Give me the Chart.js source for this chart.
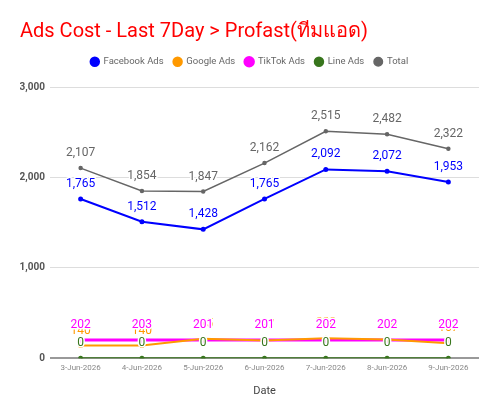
<!DOCTYPE html>
<html lang="en">
<head>
  <meta charset="UTF-8" />
  <title>Ads Cost - Last 7Day</title>
  <style>
    body { margin: 0; padding: 0; background: #fff; }
    #wrap { width: 500px; height: 415px; }
  </style>
</head>
<body>
  <div id="wrap"><canvas id="chart" width="500" height="415"></canvas></div>

  <script src="https://cdn.jsdelivr.net/npm/chart.js"></script>
  <script>
    const dates = ['3-Jun-2026', '4-Jun-2026', '5-Jun-2026', '6-Jun-2026', '7-Jun-2026', '8-Jun-2026', '9-Jun-2026'];
    const facebookAds = [1765, 1512, 1428, 1765, 2092, 2072, 1953];
    const googleAds = [140, 140, 215, 197, 220, 208, 167];
    const tiktokAds = [202, 203, 201, 201, 202, 202, 202];
    const lineAds = [0, 0, 0, 0, 0, 0, 0];
    const total = [2107, 1854, 1847, 2162, 2515, 2482, 2322];
    const yTicks = [0, 1000, 2000, 3000];

    const FONT = "Roboto, 'Noto Sans', 'DejaVu Sans', sans-serif";

    // value labels above each point, white halo like the sheets chart
    const pointLabels = {
      id: 'pointLabels',
      afterDatasetsDraw(chart) {
        const ctx = chart.ctx;
        ctx.save();
        ctx.font = '12px ' + FONT;
        ctx.textAlign = 'center';
        ctx.textBaseline = 'middle';
        ctx.lineJoin = 'round';
        chart.data.datasets.forEach((ds, i) => {
          const meta = chart.getDatasetMeta(i);
          meta.data.forEach((pt, j) => {
            const txt = ds.data[j].toLocaleString('en-US');
            const y = pt.y - 15;
            ctx.strokeStyle = '#fff';
            ctx.lineWidth = 3;
            ctx.strokeText(txt, pt.x, y);
            ctx.fillStyle = ds.labelColor;
            ctx.fillText(txt, pt.x, y);
          });
        });
        ctx.restore();
      }
    };

    // a bit more room under the legend
    const legendGap = {
      id: 'legendGap',
      beforeInit(chart) {
        const fit = chart.legend.fit;
        chart.legend.fit = function () {
          fit.call(this);
          this.height += 11;
        };
      }
    };

    function series(label, data, color, width) {
      return {
        label: label,
        data: data,
        borderColor: color,
        backgroundColor: color,
        labelColor: color,
        borderWidth: width,
        pointRadius: 1.5,
        pointHoverRadius: 2,
        tension: 0
      };
    }

    new Chart(document.getElementById('chart'), {
      type: 'line',
      data: {
        labels: dates,
        datasets: [
          series('Facebook Ads', facebookAds, '#0000ff', 2),
          series('Google Ads', googleAds, '#ff9900', 2),
          series('TikTok Ads', tiktokAds, '#ff00ff', 3),
          series('Line Ads', lineAds, '#38761d', 2),
          series('Total', total, '#666666', 1.5)
        ]
      },
      options: {
        responsive: false,
        animation: false,
        layout: { padding: { left: 20, right: 21, top: 10, bottom: 13 } },
        plugins: {
          title: {
            display: true,
            text: 'Ads Cost - Last 7Day > Profast(ทีมแอด)',
            align: 'start',
            color: '#ff0000',
            font: { family: FONT, size: 20, weight: 'normal' },
            padding: { top: 10, bottom: 3 }
          },
          legend: {
            labels: {
              usePointStyle: true,
              pointStyle: 'circle',
              boxWidth: 8,
              boxHeight: 6,
              padding: 10,
              color: '#666',
              font: { family: FONT, size: 9.5 }
            }
          },
          tooltip: { enabled: false }
        },
        scales: {
          x: {
            offset: true,
            grid: { display: false, drawTicks: false },
            border: { display: false },
            ticks: { color: '#888', font: { family: FONT, size: 8 }, padding: 5, maxRotation: 0 },
            title: { display: true, text: 'Date', color: '#444', font: { family: FONT, size: 11 }, padding: { top: 7, bottom: 4 } }
          },
          y: {
            min: 0,
            max: 3000,
            afterBuildTicks: axis => { axis.ticks = yTicks.map(v => ({ value: v })); },
            afterFit: axis => { axis.width = 30; },
            grid: {
              color: ctx => ctx.tick.value === 0 ? '#999' : '#dddddd',
              lineWidth: ctx => ctx.tick.value === 0 ? 2 : 1,
              drawTicks: false
            },
            border: { display: false },
            ticks: {
              color: '#555',
              padding: 5,
              font: { family: FONT, size: 10, weight: 'bold' },
              callback: v => v.toLocaleString('en-US')
            }
          }
        }
      },
      plugins: [pointLabels, legendGap]
    });
  </script>
</body>
</html>
